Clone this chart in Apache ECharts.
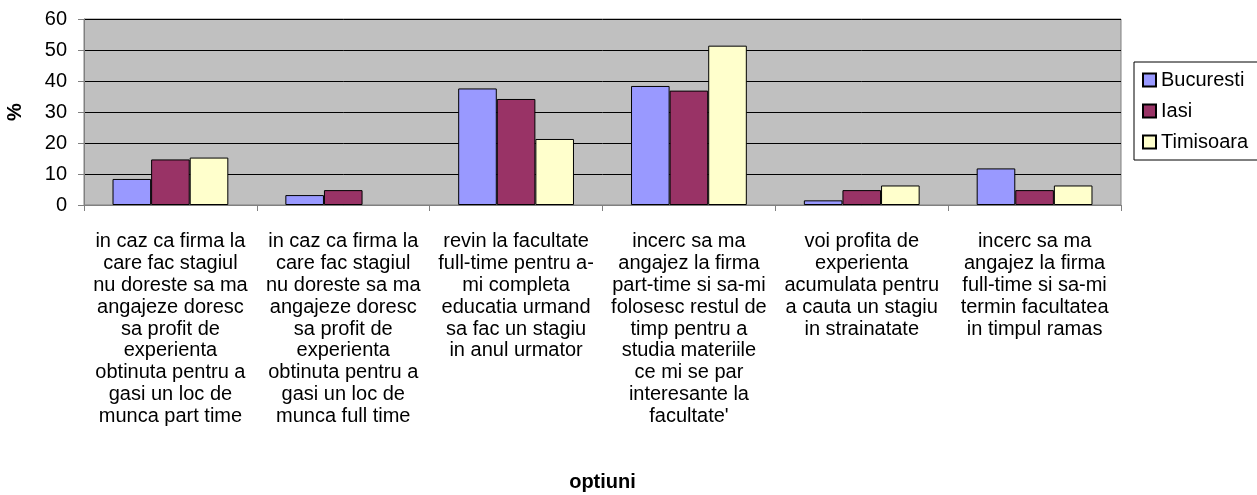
<!DOCTYPE html>
<html>
<head>
<meta charset="utf-8">
<script src="https://cdn.jsdelivr.net/npm/echarts@6/dist/echarts.min.js"></script>
<style>
  html, body { margin: 0; padding: 0; background: #fff; }
  #chart { width: 1257px; height: 495px; }
</style>
</head>
<body>
<div id="chart"></div>
<script>
const categories = [
  'in caz ca firma la\ncare fac stagiul\nnu doreste sa ma\nangajeze doresc\nsa profit de\nexperienta\nobtinuta pentru a\ngasi un loc de\nmunca part time',
  'in caz ca firma la\ncare fac stagiul\nnu doreste sa ma\nangajeze doresc\nsa profit de\nexperienta\nobtinuta pentru a\ngasi un loc de\nmunca full time',
  'revin la facultate\nfull-time pentru a-\nmi completa\neducatia urmand\nsa fac un stagiu\nin anul urmator',
  'incerc sa ma\nangajez la firma\npart-time si sa-mi\nfolosesc restul de\ntimp pentru a\nstudia materiile\nce mi se par\ninteresante la\nfacultate\'',
  'voi profita de\nexperienta\nacumulata pentru\na cauta un stagiu\nin strainatate',
  'incerc sa ma\nangajez la firma\nfull-time si sa-mi\ntermin facultatea\nin timpul ramas'
]

const bucuresti = [8.4, 3.2, 37.6, 38.4, 1.5, 11.8]
const iasi = [14.7, 4.8, 34.2, 36.9, 4.8, 4.8]
const timisoara = [15.3, 0, 21.3, 51.4, 6.3, 6.3]

const font = 'Liberation Sans, Arial, sans-serif'

function barSeries(name, data, color) {
  return {
    name,
    type: 'bar',
    // a zero value draws no bar in the original
    data: data.map(v => (v === 0 ? null : v)),
    barGap: 0,
    barCategoryGap: '33%',
    itemStyle: { color, borderColor: '#000', borderWidth: 1 },
  }
}

const chart = echarts.init(document.getElementById('chart'))
chart.setOption({
  animation: false,
  textStyle: { fontFamily: font },
  grid: {
    left: 84,
    right: 136,
    top: 19,
    bottom: 290,
    containLabel: false,
    outerBoundsMode: 'none',
    show: true,
    backgroundColor: '#C0C0C0',
    borderColor: '#808080',
    borderWidth: 1,
  },
  legend: {
    orient: 'vertical',
    left: 1134,
    top: 62,
    padding: [8, 12, 8, 8],
    itemGap: 11,
    itemWidth: 13,
    itemHeight: 13,
    borderColor: '#000',
    borderWidth: 1,
    icon: 'rect',
    textStyle: { fontSize: 20, color: '#000', fontFamily: font },
    data: ['Bucuresti', 'Iasi', 'Timisoara'],
  },
  xAxis: {
    type: 'category',
    data: categories,
    name: 'optiuni',
    nameLocation: 'middle',
    nameGap: 267,
    nameTextStyle: { fontSize: 20, fontWeight: 'bold', color: '#000', fontFamily: font },
    axisLine: { lineStyle: { color: '#808080' } },
    axisTick: { show: true, length: 6, lineStyle: { color: '#808080' } },
    axisLabel: {
      interval: 0,
      fontSize: 20,
      lineHeight: 21.8,
      color: '#000',
      margin: 26,
      fontFamily: font,
    },
  },
  yAxis: {
    type: 'value',
    min: 0,
    max: 60,
    interval: 10,
    name: '%',
    nameLocation: 'middle',
    nameGap: 59,
    nameRotate: 90,
    nameTextStyle: { fontSize: 20, fontWeight: 'bold', color: '#000', fontFamily: font },
    axisLine: { show: true, lineStyle: { color: '#808080' } },
    axisTick: { show: true, length: 6, lineStyle: { color: '#808080' } },
    axisLabel: { fontSize: 20, color: '#000', margin: 17, fontFamily: font },
    splitLine: { lineStyle: { color: '#000', width: 1 } },
  },
  series: [
    barSeries('Bucuresti', bucuresti, '#9999FF'),
    barSeries('Iasi', iasi, '#993366'),
    barSeries('Timisoara', timisoara, '#FFFFCC'),
  ],
})
</script>
</body>
</html>
